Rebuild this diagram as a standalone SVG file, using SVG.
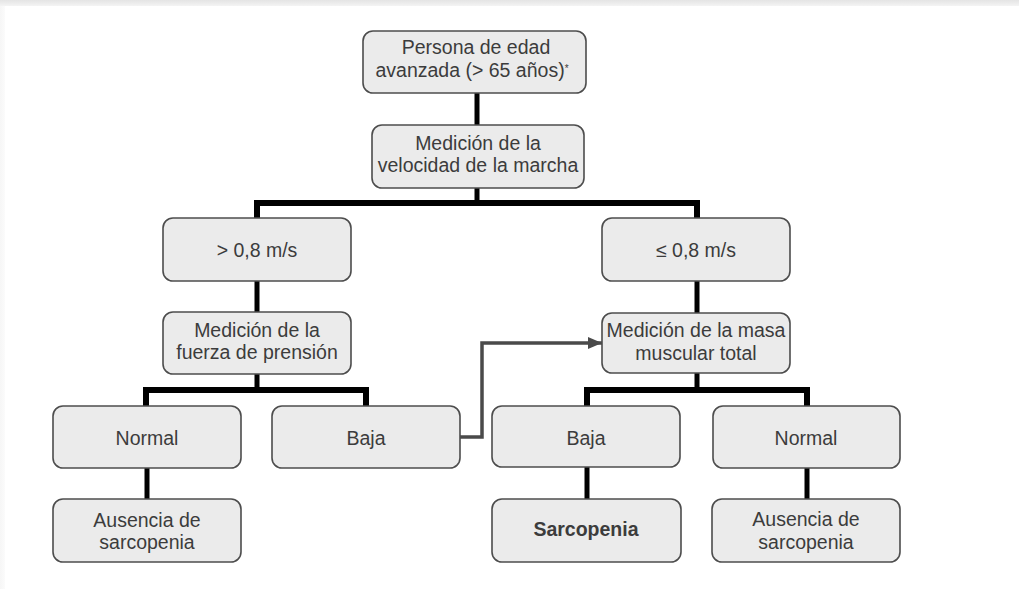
<svg xmlns="http://www.w3.org/2000/svg" width="1019" height="589" viewBox="0 0 1019 589">
<defs>
<linearGradient id="gt" x1="0" y1="0" x2="0" y2="1"><stop offset="0" stop-color="#e4e4e4"/><stop offset="1" stop-color="#f4f4f4"/></linearGradient>
<linearGradient id="gl" x1="0" y1="0" x2="1" y2="0"><stop offset="0" stop-color="#f6f6f6"/><stop offset="1" stop-color="#fbfbfb"/></linearGradient>
<marker id="ah" viewBox="0 0 14 12" refX="14" refY="6" markerWidth="14" markerHeight="12" markerUnits="userSpaceOnUse" orient="auto"><path d="M0,0 L14,6 L0,12 Z" fill="#4a4a4a"/></marker>
</defs>
<style>
.box{fill:#ebebeb;stroke:#4d4d4d;stroke-width:1.6}
.t{font-family:"Liberation Sans",Arial,sans-serif;font-size:19.5px;fill:#3c3c3c;text-anchor:middle}
.b{font-weight:bold}
.c{fill:none;stroke:#000;stroke-width:6}
.c5{fill:none;stroke:#000;stroke-width:5}
.a{fill:none;stroke:#4a4a4a;stroke-width:3.5}
</style>
<rect x="0" y="0" width="1019" height="589" fill="#ffffff"/>
<rect x="0" y="0" width="1019" height="6" fill="url(#gt)"/>
<rect x="0" y="6" width="5" height="583" fill="url(#gl)"/>
<g id="connectors">
<path class="c5" d="M477,93 V125"/>
<path class="c5" d="M477,188 V203"/>
<path class="c" d="M254,203 H700 M257,203 V218 M697,203 V218"/>
<path class="c5" d="M257,281 V312"/>
<path class="c5" d="M697,281 V313"/>
<path class="c5" d="M257,374 V390"/>
<path class="c" d="M143,390 H369 M146,390 V406 M366,390 V406"/>
<path class="c5" d="M697,373 V390"/>
<path class="c" d="M584,390 H810 M587,390 V406 M807,390 V406"/>
<path class="c5" d="M147,468 V499"/>
<path class="c5" d="M587,467 V499"/>
<path class="c5" d="M807,468 V499"/>
<path class="a" d="M460,437 H482 V343 H602" marker-end="url(#ah)"/>
</g>
<g id="n-persona"><rect class="box" x="363" y="31" width="223" height="62" rx="10"/>
<text class="t" x="476" y="54">Persona de edad</text>
<text class="t" x="472" y="77">avanzada (&gt; 65 años)<tspan font-size="10" dy="-5">*</tspan></text></g>
<g id="n-velocidad"><rect class="box" x="372" y="125" width="212" height="63" rx="10"/>
<text class="t" x="478" y="150">Medición de la</text>
<text class="t" x="478" y="172">velocidad de la marcha</text></g>
<g id="n-mayor"><rect class="box" x="163" y="218" width="188" height="63" rx="10"/>
<text class="t" x="257" y="257">&gt; 0,8 m/s</text></g>
<g id="n-menor"><rect class="box" x="602" y="218" width="188" height="63" rx="10"/>
<text class="t" x="696" y="257">≤ 0,8 m/s</text></g>
<g id="n-fuerza"><rect class="box" x="163" y="312" width="188" height="62" rx="10"/>
<text class="t" x="257" y="337">Medición de la</text>
<text class="t" x="257" y="359">fuerza de prensión</text></g>
<g id="n-masa"><rect class="box" x="602" y="313" width="188" height="60" rx="10"/>
<text class="t" x="696" y="337">Medición de la masa</text>
<text class="t" x="696" y="360">muscular total</text></g>
<g id="n-normal1"><rect class="box" x="53" y="406" width="188" height="62" rx="10"/>
<text class="t" x="147" y="445">Normal</text></g>
<g id="n-baja1"><rect class="box" x="272" y="406" width="188" height="62" rx="10"/>
<text class="t" x="366" y="445">Baja</text></g>
<g id="n-baja2"><rect class="box" x="492" y="406" width="188" height="61" rx="10"/>
<text class="t" x="586" y="445">Baja</text></g>
<g id="n-normal2"><rect class="box" x="713" y="406" width="187" height="62" rx="10"/>
<text class="t" x="806" y="445">Normal</text></g>
<g id="n-ausencia1"><rect class="box" x="53" y="499" width="188" height="63" rx="10"/>
<text class="t" x="147" y="527">Ausencia de</text>
<text class="t" x="147" y="549">sarcopenia</text></g>
<g id="n-sarcopenia"><rect class="box" x="492" y="499" width="189" height="63" rx="10"/>
<text class="t b" x="586" y="536">Sarcopenia</text></g>
<g id="n-ausencia2"><rect class="box" x="712" y="499" width="188" height="63" rx="10"/>
<text class="t" x="806" y="526">Ausencia de</text>
<text class="t" x="806" y="549">sarcopenia</text></g>
</svg>
